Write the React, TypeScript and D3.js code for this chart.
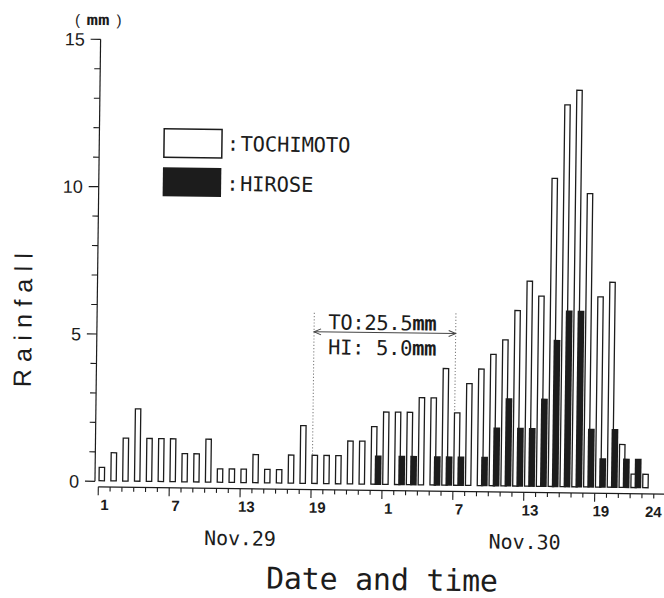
import React from 'react';
import * as d3 from 'd3';

// Hourly rainfall (mm), Nov.29 hour 1 .. Nov.30 hour 24
const hourIndex = d3.range(1, 49);
const tochimoto = [
  0.5, 1.0, 1.5, 2.5, 1.5, 1.5, 1.5, 1.0, 1.0, 1.5, 0.5, 0.5,
  0.5, 1.0, 0.5, 0.5, 1.0, 2.0, 1.0, 1.0, 1.0, 1.5, 1.5, 2.0,
  2.5, 2.5, 2.5, 3.0, 3.0, 4.0, 2.5, 3.5, 4.0, 4.5, 5.0, 6.0,
  7.0, 6.5, 10.5, 13.0, 13.5, 10.0, 6.5, 7.0, 1.5, 0.5, 0.5, 0,
];
const hirose = [
  0, 0, 0, 0, 0, 0, 0, 0, 0, 0, 0, 0,
  0, 0, 0, 0, 0, 0, 0, 0, 0, 0, 0, 1.0,
  0, 1.0, 1.0, 0, 1.0, 1.0, 1.0, 0, 1.0, 2.0, 3.0, 2.0,
  2.0, 3.0, 5.0, 6.0, 6.0, 2.0, 1.0, 2.0, 1.0, 1.0, 0, 0,
];
const xTickHours = [1, 7, 13, 19, 25, 31, 37, 43, 48];
const xTickLabels = ['1', '7', '13', '19', '1', '7', '13', '19', '24'];
const yMajor = [0, 5, 10, 15];
const yMinor = [1, 2, 3, 4, 6, 7, 8, 9, 11, 12, 13, 14];
const days = ['Nov.29', 'Nov.30'];
const dayMidHour = [12, 36];
const legendNames = ['TOCHIMOTO', 'HIROSE'];
const bracketHours = [19, 31]; // annotated period start/end bars
const annotationLines = ['TO:25.5', 'HI: 5.0'];

export default function App() {
  const W = 664;
  const H = 598;
  const ink = '#1c1c1c';
  const mono = "'DejaVu Sans Mono', 'Liberation Mono', monospace";
  const sans = "'Liberation Sans', Arial, sans-serif";

  const x = d3.scaleLinear().domain([0, 48]).range([100.7, 100.7 + 48 * 11.82]);
  const y = d3.scaleLinear().domain([0, 15]).range([484.3, 42.3]);
  const barW = 6.7;
  const blackOff = 4.3;
  const sw = 1.3;
  const axisX = 97.3;
  const axisY = 489.8;

  const leftDot = x(bracketHours[0] - 1) + 1;
  const rightDot = x(bracketHours[1] - 1) + 0.8;
  const arrowY = 332;

  return (
    <svg
      width={W}
      height={H}
      style={{ position: 'absolute', left: 0, top: 0, background: '#fff' }}
    >
      <rect width={W} height={H} fill="#fff" />
      <g transform="rotate(0.73 330 300)">
        {/* white TOCHIMOTO bars */}
        {hourIndex.map((h, i) =>
          tochimoto[i] > 0 ? (
            <rect
              key={'t' + h}
              x={x(h - 1) + sw / 2}
              y={y(tochimoto[i]) + sw / 2}
              width={barW - sw}
              height={y(0) - y(tochimoto[i]) - sw}
              fill="#fff"
              stroke={ink}
              strokeWidth={sw}
            />
          ) : null
        )}
        {/* black HIROSE bars */}
        {hourIndex.map((h, i) =>
          hirose[i] > 0 ? (
            <rect
              key={'h' + h}
              x={x(h - 1) + blackOff}
              y={y(hirose[i])}
              width={barW}
              height={y(0) - y(hirose[i])}
              fill={ink}
            />
          ) : null
        )}

        {/* Y axis */}
        <line x1={axisX} x2={axisX} y1={y(0)} y2={y(15)} stroke={ink} strokeWidth={1.2} />
        {yMajor.map((v) => (
          <g key={'ym' + v}>
            <line x1={axisX - 10} x2={axisX} y1={y(v)} y2={y(v)} stroke={ink} strokeWidth={1.2} />
            <text
              x={81.5}
              y={y(v)}
              dy="0.36em"
              textAnchor="end"
              fontFamily={sans}
              fontSize={18}
              fill={ink}
            >
              {v}
            </text>
          </g>
        ))}
        {yMinor.map((v) => (
          <line key={'yn' + v} x1={axisX - 6} x2={axisX} y1={y(v)} y2={y(v)} stroke={ink} strokeWidth={1.1} />
        ))}
        <text x={74} y={28} textAnchor="middle" fontFamily={sans} fontSize={15} fill={ink}>(</text>
        <text x={83} y={28} fontFamily={mono} fontWeight="bold" fontSize={15} fill={ink} textLength={23} lengthAdjust="spacingAndGlyphs">mm</text>
        <text x={115.5} y={28} textAnchor="middle" fontFamily={sans} fontSize={15} fill={ink}>)</text>

        <text
          transform="translate(32,324) rotate(-90)"
          textAnchor="middle"
          fontFamily={sans}
          fontSize={25}
          fill={ink}
          textLength={134}
          lengthAdjust="spacing"
        >
          Rainfall
        </text>

        {/* X axis */}
        <line x1={x(0)} x2={x(48)} y1={axisY} y2={axisY} stroke={ink} strokeWidth={1.2} />
        {d3.range(0, 49).map((k) => {
          const long = xTickHours.slice(0, 8).some((h) => h - 1 === k);
          return (
            <line
              key={'xt' + k}
              x1={x(k)}
              x2={x(k)}
              y1={axisY}
              y2={axisY + (long ? 8.5 : 4.5)}
              stroke={ink}
              strokeWidth={1.1}
            />
          );
        })}
        {xTickHours.map((h, j) => (
          <text
            key={'xl' + j}
            x={Math.min(x(h - 0.5) + 0.5, 656)}
            y={513}
            textAnchor="middle"
            fontFamily={sans}
            fontWeight="bold"
            fontSize={15}
            fill={ink}
          >
            {xTickLabels[j]}
          </text>
        ))}
        {days.map((d, j) => (
          <text
            key={d}
            x={x(dayMidHour[j]) - 36 + 0.5 + j * 1}
            y={546.5}
            fontFamily={mono}
            fontSize={20}
            fill={ink}
            textLength={72}
            lengthAdjust="spacing"
          >
            {d}
          </text>
        ))}
        <text
          x={269.6}
          y={589.3}
          fontFamily={mono}
          fontSize={30}
          fill={ink}
          textLength={232}
          lengthAdjust="spacing"
        >
          Date and time
        </text>

        {/* Legend */}
        <rect x={162.05} y={130.85} width={57.9} height={28.5} fill="#fff" stroke={ink} strokeWidth={1.5} />
        <rect x={161.3} y={169.5} width={58.4} height={29} fill={ink} />
        <text x={231} y={152.2} textAnchor="middle" fontFamily={mono} fontSize={20.5} fill={ink}>:</text>
        <text x={238.5} y={152.2} fontFamily={mono} fontSize={20.5} fill={ink} textLength={110} lengthAdjust="spacing">
          {legendNames[0]}
        </text>
        <text x={231} y={192.2} textAnchor="middle" fontFamily={mono} fontSize={20.5} fill={ink}>:</text>
        <text x={238.5} y={192.2} fontFamily={mono} fontSize={20.5} fill={ink} textLength={73.5} lengthAdjust="spacing">
          {legendNames[1]}
        </text>

        {/* Annotation */}
        <line x1={leftDot} x2={leftDot} y1={313} y2={y(tochimoto[bracketHours[0] - 1])} stroke="#777" strokeWidth={1} strokeDasharray="1.2 2" />
        <line x1={rightDot} x2={rightDot} y1={311.7} y2={y(tochimoto[bracketHours[1] - 1])} stroke="#777" strokeWidth={1} strokeDasharray="1.2 2" />
        <line x1={leftDot} x2={rightDot} y1={arrowY} y2={arrowY} stroke="#444" strokeWidth={1} />
        <polyline
          points={`${leftDot + 7},${arrowY - 3} ${leftDot},${arrowY} ${leftDot + 7},${arrowY + 3}`}
          fill="none"
          stroke="#444"
          strokeWidth={1}
        />
        <polyline
          points={`${rightDot - 7},${arrowY - 3} ${rightDot},${arrowY} ${rightDot - 7},${arrowY + 3}`}
          fill="none"
          stroke="#444"
          strokeWidth={1}
        />
        {annotationLines.map((t, j) => (
          <text
            key={t}
            x={328.6}
            y={329.3 + j * 25}
            fontFamily={mono}
            fontSize={20.5}
            fill={ink}
            textLength={108.4}
            lengthAdjust="spacing"
          >
            {t}
            <tspan fontWeight="bold">mm</tspan>
          </text>
        ))}
      </g>
    </svg>
  );
}
